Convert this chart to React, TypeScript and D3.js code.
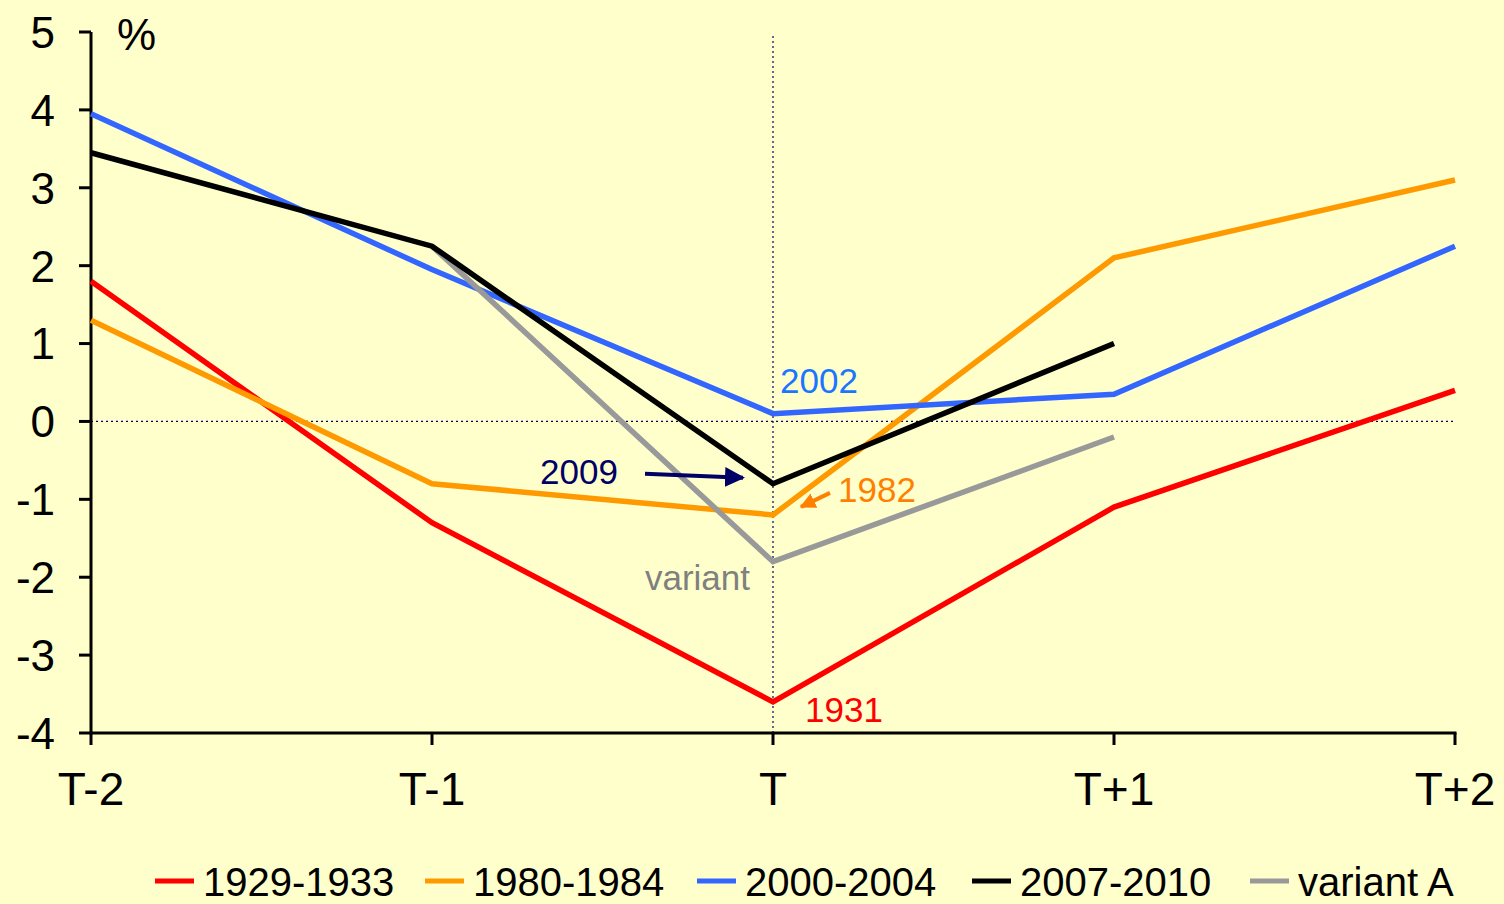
import React from 'react';
import * as d3 from 'd3';

const categories = ['T-2', 'T-1', 'T', 'T+1', 'T+2'];
const yTicks = [5, 4, 3, 2, 1, 0, -1, -2, -3, -4];

const s1929 = [1.8, -1.3, -3.6, -1.1, 0.4];
const s1980 = [1.3, -0.8, -1.2, 2.1, 3.1];
const s2000 = [3.95, 1.95, 0.1, 0.35, 2.25];
const s2007 = [3.45, 2.25, -0.8, 1.0, null];
const variantA = [null, 2.25, -1.8, -0.2, null];

const series = [
  { name: '1929-1933', values: s1929, color: '#ff0000' },
  { name: '1980-1984', values: s1980, color: '#ff9900' },
  { name: '2000-2004', values: s2000, color: '#3366ff' },
  { name: '2007-2010', values: s2007, color: '#000000' },
  { name: 'variant A', values: variantA, color: '#999999' },
];
// draw order (grey under black)
const drawOrder = [0, 1, 2, 4, 3];

const legendX = [155, 425, 697, 972, 1250];

const W = 1504;
const H = 904;
const FONT = '"Liberation Sans", Arial, sans-serif';

const App = () => {
  const x = d3.scalePoint<string>().domain(categories).range([91, 1455]);
  const y = d3.scaleLinear().domain([-4, 5]).range([733, 32]);

  const line = d3
    .line<number | null>()
    .defined(d => d !== null)
    .x((_, i) => x(categories[i]) as number)
    .y(d => y(d as number));

  const xT = x('T') as number;

  return (
    <svg width={W} height={H} style={{ position: 'absolute', left: 0, top: 0, fontFamily: FONT }}>
      <defs>
        <marker id="navyHead" viewBox="0 0 10 10" refX="9" refY="5" markerWidth="5" markerHeight="5" orient="auto" markerUnits="strokeWidth">
          <path d="M0,0 L10,5 L0,10 z" fill="#000066" />
        </marker>
        <marker id="orangeHead" viewBox="0 0 10 10" refX="9" refY="5" markerWidth="4" markerHeight="4" orient="auto" markerUnits="strokeWidth">
          <path d="M0,0 L10,5 L0,10 z" fill="#ff8000" />
        </marker>
      </defs>
      <rect x={0} y={0} width={W} height={H} fill="#ffffcc" />

      {/* reference lines */}
      <line x1={91} x2={1455} y1={y(0)} y2={y(0)} stroke="#000066" strokeWidth={1.2} strokeDasharray="2,3" />
      <line x1={xT} x2={xT} y1={36} y2={733} stroke="#000066" strokeWidth={1.2} strokeDasharray="2,3" />

      {/* y axis */}
      <line x1={91} x2={91} y1={y(5)} y2={y(-4) + 1.5} stroke="#000" strokeWidth={3} />
      {yTicks.map(t => (
        <g key={t}>
          <line x1={79} x2={91} y1={y(t)} y2={y(t)} stroke="#000" strokeWidth={3} />
          <text x={55} y={y(t)} dy="0.36em" textAnchor="end" fontSize={44} fill="#000">{t}</text>
        </g>
      ))}
      <text x={117} y={50} fontSize={44} fill="#000">%</text>

      {/* x axis */}
      <line x1={89.5} x2={1456.5} y1={y(-4)} y2={y(-4)} stroke="#000" strokeWidth={3} />
      {categories.map(c => (
        <g key={c}>
          <line x1={x(c)} x2={x(c)} y1={y(-4)} y2={y(-4) + 12} stroke="#000" strokeWidth={3} />
          <text x={x(c)} y={805} textAnchor="middle" fontSize={46} fill="#000">{c}</text>
        </g>
      ))}

      {/* series */}
      {drawOrder.map(i => (
        <path key={series[i].name} d={line(series[i].values) || ''} fill="none" stroke={series[i].color} strokeWidth={5.5} strokeLinejoin="miter" />
      ))}

      {/* annotations */}
      <text x={780} y={y(0.1) - 21} fontSize={35} fill="#1a75ff">2002</text>
      <text x={540} y={y(-0.8) + 0} fontSize={35} fill="#000066">2009</text>
      <line x1={645} y1={y(-0.8) - 10} x2={743} y2={y(-0.8) - 6} stroke="#000066" strokeWidth={4} markerEnd="url(#navyHead)" />
      <text x={838} y={y(-1.2) - 13} fontSize={35} fill="#ff8000">1982</text>
      <line x1={830} y1={y(-1.2) - 22} x2={801} y2={y(-1.2) - 8} stroke="#ff8000" strokeWidth={4} markerEnd="url(#orangeHead)" />
      <text x={750} y={y(-1.8) + 28} textAnchor="end" fontSize={35} fill="#808080">variant</text>
      <text x={805} y={y(-3.6) + 20} fontSize={35} fill="#ff0000">1931</text>

      {/* legend */}
      {series.map((s, i) => (
        <g key={s.name}>
          <line x1={legendX[i]} x2={legendX[i] + 39} y1={881} y2={881} stroke={s.color} strokeWidth={5} />
          <text x={legendX[i] + 48} y={896} fontSize={40} fill="#000">{s.name}</text>
        </g>
      ))}
    </svg>
  );
};

export default App;
